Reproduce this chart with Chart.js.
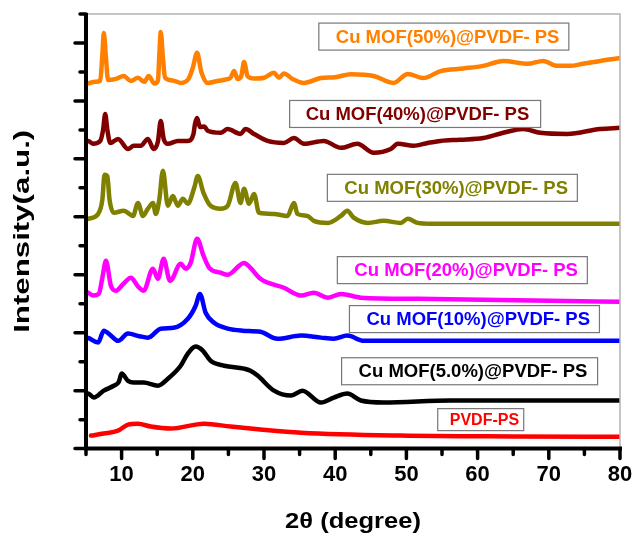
<!DOCTYPE html>
<html>
<head>
<meta charset="utf-8">
<script src="https://cdn.jsdelivr.net/npm/chart.js@4/dist/chart.umd.min.js"></script>
<style>
    html, body { margin: 0; padding: 0; background: #fff; }
    #wrap { width: 636px; height: 535px; }
</style>
</head>
<body>
<div id="wrap"><canvas id="xrdChart" width="636" height="535"></canvas></div>
<script>
// 2-theta tick values and intensity tick values (intensity in stacked arbitrary units)
const angleTicks = [5, 10, 15, 20, 25, 30, 35, 40, 45, 50, 55, 60, 65, 70, 75, 80];
const intensityTicks = [0, 1, 2, 3, 4, 5, 6, 7, 8, 9, 10, 11, 12, 13, 14, 15];

const sampleNames = [
    'PVDF-PS',
    'Cu MOF(5.0%)@PVDF- PS',
    'Cu MOF(10%)@PVDF- PS',
    'Cu MOF(20%)@PVDF- PS',
    'Cu MOF(30%)@PVDF- PS',
    'Cu MOF(40%)@PVDF- PS',
    'Cu MOF(50%)@PVDF- PS'
];

// [2theta, intensity] for each pattern, already offset for stacking
const pvdfPs = [
    [5.7, 0.45], [7.5, 0.52], [9.5, 0.62], [10.9, 0.83], [12.3, 0.86], [14.1, 0.76],
    [16.9, 0.69], [21.6, 0.86], [25.3, 0.76], [29.5, 0.66], [35.2, 0.55], [49.2, 0.45],
    [65, 0.42], [80, 0.41]
];
const mof5 = [
    [5.0, 1.9], [5.3, 1.9], [6.1, 1.76], [7.5, 2.0], [8.9, 2.17], [9.6, 2.3], [10.0, 2.59],
    [10.9, 2.34], [11.7, 2.28], [13.1, 2.28], [15.1, 2.17], [16.5, 2.41], [18.3, 2.86],
    [19.3, 3.28], [20.4, 3.52], [21.4, 3.38], [22.5, 3.03], [24.4, 2.86], [27.2, 2.76],
    [28.1, 2.69], [29.1, 2.52], [31.4, 2.0], [33.8, 1.83], [35.4, 2.0], [38.0, 1.59],
    [39.8, 1.76], [41.7, 1.9], [43.6, 1.66], [46.8, 1.59], [56.2, 1.66], [65, 1.66], [80, 1.66]
];
const mof10 = [
    [5.0, 3.83], [5.3, 3.82], [6.7, 3.66], [7.5, 4.07], [8.5, 3.9], [9.5, 3.72], [10.9, 3.97],
    [12.5, 3.88], [13.7, 3.83], [15.5, 4.14], [17.3, 4.17], [19.3, 4.48], [20.4, 4.93],
    [21.0, 5.34], [21.8, 4.69], [23.0, 4.34], [24.9, 4.14], [27.0, 4.07], [29.5, 4.03],
    [31.9, 3.79], [35.2, 3.9], [38.0, 3.83], [39.8, 3.79], [41.7, 3.9], [44.0, 3.72],
    [51.6, 3.72], [60, 3.72], [70, 3.72], [80, 3.72]
];
const mof20 = [
    [5.0, 5.4], [5.3, 5.38], [6.0, 5.28], [6.8, 5.34], [7.3, 5.9], [7.8, 6.48], [8.5, 5.62],
    [9.2, 5.45], [10.3, 5.7], [11.3, 5.9], [12.3, 5.6], [13.1, 5.45], [14.4, 6.21], [15.1, 5.86],
    [15.9, 6.55], [16.8, 5.79], [18.3, 6.38], [19.0, 6.21], [19.7, 6.41], [20.6, 7.24],
    [21.5, 6.66], [22.3, 6.24], [23.9, 6.07], [24.9, 6.0], [27.2, 6.41], [28.1, 6.24],
    [29.5, 5.86], [32.8, 5.55], [35.2, 5.28], [37.0, 5.38], [39.0, 5.21], [40.8, 5.34],
    [43.6, 5.21], [51.6, 5.17], [60.8, 5.14], [70.2, 5.1], [80, 5.07]
];
const mof30 = [
    [5.0, 7.9], [5.3, 7.93], [6.7, 8.1], [7.3, 8.6], [7.6, 9.45], [8.0, 9.4], [8.3, 8.6],
    [8.9, 8.14], [10.3, 8.21], [11.6, 8.03], [12.3, 8.48], [13.0, 8.03], [13.7, 8.28],
    [14.4, 8.48], [14.8, 8.1], [15.3, 8.6], [15.8, 9.59], [16.5, 8.38], [17.2, 8.72],
    [17.9, 8.38], [18.6, 8.62], [19.3, 8.45], [20.2, 9.0], [20.7, 9.41], [21.5, 8.83],
    [22.5, 8.38], [23.9, 8.28], [24.9, 8.38], [26.0, 9.17], [26.7, 8.48], [27.2, 8.97],
    [27.9, 8.45], [28.6, 8.79], [29.3, 8.14], [31.4, 8.1], [33.3, 8.03], [34.2, 8.48],
    [34.7, 8.1], [36.1, 8.03], [37.0, 7.86], [39.0, 7.79], [40.8, 8.03], [41.7, 8.21],
    [42.6, 7.97], [44.6, 7.79], [46.8, 7.86], [49.2, 7.79], [50.2, 7.93], [51.6, 7.79],
    [53.4, 7.76], [60, 7.76], [70, 7.76], [80, 7.76]
];
const mof40 = [
    [5.0, 10.58], [5.3, 10.62], [6.0, 10.52], [7.0, 10.62], [7.4, 11.0], [7.7, 11.55],
    [8.0, 11.0], [8.4, 10.55], [9.5, 10.69], [10.9, 10.34], [11.7, 10.45], [12.7, 10.45],
    [13.7, 10.69], [14.5, 10.34], [15.1, 10.6], [15.5, 11.31], [15.9, 10.7], [16.5, 10.52],
    [17.9, 10.62], [19.3, 10.62], [20.1, 10.86], [20.3, 11.2], [20.6, 11.41], [21.0, 11.1],
    [21.6, 11.12], [22.1, 10.97], [23.9, 10.9], [24.9, 11.03], [26.7, 10.86], [27.4, 11.03],
    [28.6, 10.86], [30.5, 10.62], [32.8, 10.55], [34.2, 10.72], [35.6, 10.52], [38.4, 10.62],
    [40.8, 10.38], [43.1, 10.52], [45.4, 10.21], [47.8, 10.34], [48.8, 10.52], [51.0, 10.45],
    [53.0, 10.55], [54.8, 10.62], [57.5, 10.66], [60.8, 10.72], [63.6, 10.9], [66.4, 11.03],
    [68.8, 10.9], [72.6, 10.86], [77.2, 11.03], [80, 11.07]
];
const mof50 = [
    [5.0, 12.58], [5.5, 12.62], [6.3, 12.66], [7.0, 12.7], [7.3, 13.6], [7.5, 14.34], [7.8, 13.5],
    [8.1, 12.72], [9.2, 12.76], [10.3, 12.86], [11.3, 12.69], [12.3, 12.8], [13.2, 12.66],
    [13.8, 12.86], [14.6, 12.6], [15.1, 12.7], [15.3, 13.6], [15.5, 14.38], [15.8, 13.5],
    [16.1, 12.8], [17.3, 12.7], [18.3, 12.62], [19.4, 12.76], [20.0, 13.14], [20.6, 13.66],
    [21.2, 13.0], [22.1, 12.62], [23.5, 12.69], [24.6, 12.74], [25.3, 12.8], [25.8, 13.03],
    [26.3, 12.76], [26.8, 12.85], [27.2, 13.34], [27.7, 12.85], [28.6, 12.77], [30.0, 12.8],
    [31.4, 12.97], [32.1, 12.8], [32.8, 12.95], [34.0, 12.76], [35.6, 12.62], [38.0, 12.79],
    [40.0, 12.82], [42.2, 12.92], [45.4, 12.86], [48.2, 12.62], [50.2, 12.93], [52.4, 12.79],
    [54.8, 13.03], [58.0, 13.12], [60.8, 13.21], [63.6, 13.38], [67.0, 13.28], [69.2, 13.38],
    [71.2, 13.21], [73.0, 13.21], [74.8, 13.28], [77.2, 13.38], [80, 13.48]
];

const patterns = [pvdfPs, mof5, mof10, mof20, mof30, mof40, mof50];
const colours = ['#ff0000', '#000000', '#0000ff', '#ff00ff', '#808000', '#800000', '#ff8000'];

// where each sample's name box sits: left edge (2theta) and vertical centre (intensity)
const nameBoxes = [
    { x: 54.4, y: 1.0, width: 86, pad: 12, size: 16 },
    { x: 40.9, y: 2.67, width: 256, pad: 17, size: 18.5 },
    { x: 42.0, y: 4.47, width: 250, pad: 17, size: 18.5 },
    { x: 40.3, y: 6.16, width: 250, pad: 17, size: 18.5 },
    { x: 38.9, y: 9.0, width: 250, pad: 17, size: 18.5 },
    { x: 33.6, y: 11.55, width: 251, pad: 16, size: 18.5 },
    { x: 37.7, y: 14.22, width: 250, pad: 17, size: 18.5 }
];

const FONT = '"Liberation Sans", Arial, Helvetica, sans-serif';

// axes, tick marks, titles and sample name boxes
const framePlugin = {
    id: 'frame',
    afterDatasetsDraw(chart) {
        const ctx = chart.ctx;
        const area = chart.chartArea;
        const xs = chart.scales.x;
        const ys = chart.scales.y;
        ctx.save();

        // thin grey top/right frame
        ctx.strokeStyle = '#b4b4b4';
        ctx.lineWidth = 1.5;
        ctx.beginPath();
        ctx.moveTo(area.left, area.top);
        ctx.lineTo(area.right, area.top);
        ctx.lineTo(area.right, area.bottom);
        ctx.stroke();

        // heavy left and bottom axes
        ctx.strokeStyle = '#000';
        ctx.lineWidth = 4;
        ctx.lineCap = 'butt';
        ctx.beginPath();
        ctx.moveTo(area.left, area.top - 1);
        ctx.lineTo(area.left, area.bottom + 2);
        ctx.moveTo(area.left - 2, area.bottom);
        ctx.lineTo(area.right + 2, area.bottom);
        ctx.stroke();

        ctx.lineWidth = 3.5;
        ctx.lineCap = 'round';
        ctx.beginPath();
        angleTicks.forEach(v => {
            const px = xs.getPixelForValue(v);
            const len = v % 10 === 0 ? 10 : 6;
            ctx.moveTo(px, area.bottom);
            ctx.lineTo(px, area.bottom + len);
        });
        intensityTicks.forEach(v => {
            const py = ys.getPixelForValue(v);
            const len = v % 2 === 0 ? 11 : 6;
            ctx.moveTo(area.left, py);
            ctx.lineTo(area.left - len, py);
        });
        ctx.stroke();

        // axis titles
        ctx.fillStyle = '#000';
        ctx.textAlign = 'center';
        ctx.textBaseline = 'middle';
        ctx.font = 'bold 22px ' + FONT;
        ctx.save();
        ctx.translate((area.left + area.right) / 2, 522);
        ctx.scale(1.16, 1);
        ctx.fillText('2\u03b8 (degree)', 0, 0);
        ctx.restore();

        ctx.save();
        ctx.translate(23, (area.top + area.bottom) / 2);
        ctx.rotate(-Math.PI / 2);
        ctx.scale(1.42, 1);
        ctx.fillText('Intensity(a.u.)', 0, 0);
        ctx.restore();

        // sample name boxes
        nameBoxes.forEach((b, i) => {
            const left = xs.getPixelForValue(b.x);
            const cy = ys.getPixelForValue(b.y);
            const h = b.size > 17 ? 27 : 22;
            ctx.fillStyle = '#fff';
            ctx.fillRect(left, cy - h / 2, b.width, h);
            ctx.strokeStyle = '#777';
            ctx.lineWidth = 1.2;
            ctx.strokeRect(left, cy - h / 2, b.width, h);
            ctx.fillStyle = colours[i];
            ctx.font = 'bold ' + b.size + 'px ' + FONT;
            ctx.textAlign = 'left';
            ctx.textBaseline = 'middle';
            ctx.fillText(sampleNames[i], left + b.pad, cy + 1);
        });

        ctx.restore();
    }
};

function createXrdChart() {
    const ctx = document.getElementById('xrdChart').getContext('2d');
    return new Chart(ctx, {
        type: 'line',
        data: {
            datasets: patterns.map((p, i) => ({
                label: sampleNames[i],
                data: p.map(pt => ({ x: pt[0], y: pt[1] })),
                borderColor: colours[i],
                borderWidth: 4.5,
                pointRadius: 0,
                fill: false,
                cubicInterpolationMode: 'monotone',
                borderJoinStyle: 'round',
                borderCapStyle: 'round'
            }))
        },
        options: {
            responsive: false,
            animation: false,
            layout: { padding: { left: 86, right: 16, top: 14, bottom: 44 } },
            plugins: {
                legend: { display: false },
                tooltip: { enabled: false }
            },
            scales: {
                x: {
                    type: 'linear',
                    min: 5,
                    max: 80,
                    grid: { display: false, drawTicks: true, tickLength: 10 },
                    border: { display: false },
                    ticks: {
                        stepSize: 5,
                        autoSkip: false,
                        maxRotation: 0,
                        padding: 3,
                        color: '#000',
                        font: { family: FONT, size: 22, weight: 'bold' },
                        callback: v => (v % 10 === 0 ? String(v) : '')
                    }
                },
                y: {
                    type: 'linear',
                    display: false,
                    min: 0,
                    max: 15
                }
            }
        },
        plugins: [framePlugin]
    });
}

let chart;
document.addEventListener('DOMContentLoaded', () => {
    chart = createXrdChart();
});
</script>
</body>
</html>
